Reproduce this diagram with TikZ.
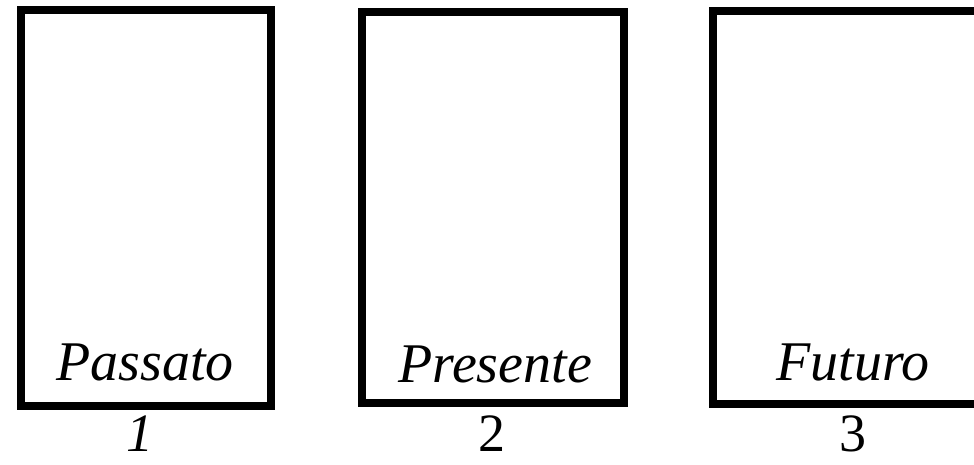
\documentclass[tikz,border=0pt]{standalone}
\usepackage{fontspec}
\setmainfont{Liberation Serif}
\begin{document}
\begin{tikzpicture}[x=1pt,y=-1pt,
  framebox/.style={draw=black,line width=8pt,rectangle,inner sep=0pt},
  label/.style={font=\fontsize{56}{56}\selectfont\itshape,anchor=base,inner sep=0pt},
  numlabel/.style={font=\fontsize{54}{54}\selectfont,anchor=base,inner sep=0pt}]
\useasboundingbox (0,0) rectangle (974,464);
\clip (0,0) rectangle (974,464);
\fill[white] (0,0) rectangle (974,464);
\node[framebox,minimum width=250pt,minimum height=396pt] (b1) at (146,208) {};
\node[framebox,minimum width=262pt,minimum height=391pt] (b2) at (493,207.5) {};
\node[framebox,minimum width=280pt,minimum height=393pt] (b3) at (853,207.5) {};
\node[label] (t1) at (145,380) {Passato};
\node[label] (t2) at (495,382) {Presente};
\node[label] (t3) at (853,380) {Futuro};
\node[numlabel,font=\fontsize{54}{54}\selectfont\itshape] (n1) at (140,451) {1};
\node[numlabel] (n2) at (492,451) {2};
\node[numlabel] (n3) at (853,451) {3};
\end{tikzpicture}
\end{document}
